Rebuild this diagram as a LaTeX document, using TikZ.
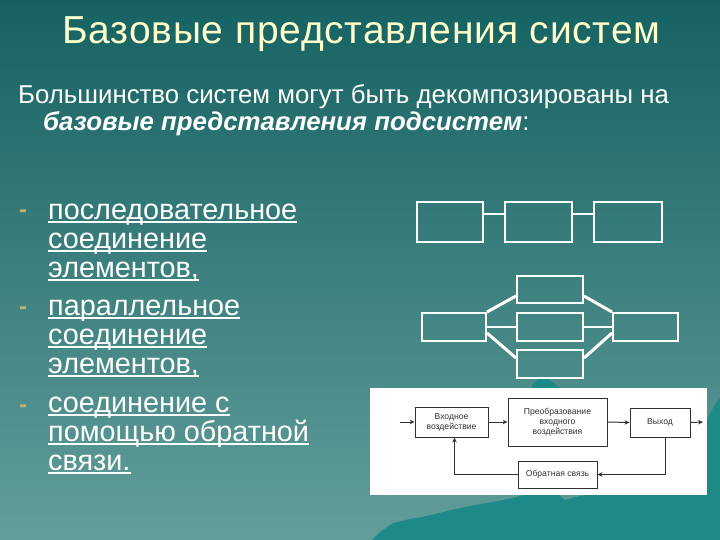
\documentclass[tikz,border=0pt]{standalone}
\usepackage{fontspec}
\setmainfont{Liberation Sans}
\usetikzlibrary{arrows.meta}
\definecolor{bgtop}{RGB}{22,98,98}
\definecolor{bgbot}{RGB}{98,158,155}
\definecolor{mount}{RGB}{30,138,136}
\definecolor{titlecol}{RGB}{255,255,204}
\definecolor{dashcol}{RGB}{190,180,110}
\definecolor{fbline}{RGB}{50,50,50}
\tikzset{
  titletext/.style={text=titlecol, font=\fontsize{39}{44}\selectfont\addfontfeature{LetterSpace=2}, inner sep=0pt},
  subtext/.style={text=white, font=\fontsize{25.8}{30}\selectfont, inner sep=0pt, anchor=base west},
  itemtext/.style={text=white, font=\fontsize{28.8}{32}\selectfont, inner sep=0pt, anchor=base west},
  dashmark/.style={text=dashcol, font=\fontsize{24}{28}\selectfont\bfseries, inner sep=0pt},
  uline/.style={draw=white, line width=1.4pt},
  sbox/.style={draw=white, line width=2pt, inner sep=0pt},
  slink/.style={draw=white, line width=2pt},
  plink/.style={draw=white, line width=3pt},
  fbbox/.style={draw=fbline, line width=0.9pt, fill=white, text=fbline, align=center,
    font=\fontsize{8.6}{10}\selectfont, inner sep=0pt},
  fbarrow/.style={draw=fbline, line width=1pt, -{Stealth[length=5pt,width=4.5pt]}},
}
\begin{document}
\begin{tikzpicture}[x=1pt,y=-1pt]
\useasboundingbox (0,0) rectangle (720,540);
\shade[top color=bgtop, bottom color=bgbot] (0,0) rectangle (720,540);
% mountain
\fill[mount] (372,540) -- (380,532) -- (393,523) -- (410,519) -- (427,516) -- (447,511)
  -- (470,506) -- (493,502) -- (517,497) -- (530,493) -- (532,385) -- (540,377) -- (550,380)
  -- (560,388) -- (560,496) -- (565,500) -- (575,497) -- (600,492) -- (700,492)
  -- (707,420) -- (712,410) -- (716,403) -- (720,398) -- (720,540) -- cycle;
% title
\node[titletext, anchor=base] (title) at (361.5,44) {Базовые представления систем};
% subtitle
\node[subtext] (sub1) at (18,104) {Большинство систем могут быть декомпозированы на};
\node[subtext] (sub2) at (43,131) {\bfseries\itshape базовые представления подсистем\normalfont:};
% bullets
\node[dashmark] (d1) at (23,214) {-};
\node[dashmark] (d2) at (23,311) {-};
\node[dashmark] (d3) at (23,409) {-};
\node[itemtext] (i1) at (48,219) {последовательное\ };
\node[itemtext] (i2) at (48,248) {соединение};
\node[itemtext] (i3) at (48,277) {элементов,};
\node[itemtext] (i4) at (48,315) {параллельное};
\node[itemtext] (i5) at (48,344) {соединение};
\node[itemtext] (i6) at (48,373) {элементов,};
\node[itemtext] (i7) at (48,412) {соединение с};
\node[itemtext] (i8) at (48,441) {помощью обратной};
\node[itemtext] (i9) at (48,470) {связи.};
\foreach \n in {i1,i2,i3,i4,i5,i6,i7,i8,i9}
  \draw[uline] ([yshift=-3pt]\n.base west) -- ([yshift=-3pt]\n.base east);
% series connection
\node[sbox, minimum width=66, minimum height=40] (s1) at (450,222) {};
\node[sbox, minimum width=67, minimum height=40] (s2) at (538.5,222) {};
\node[sbox, minimum width=68, minimum height=40] (s3) at (627.5,222) {};
\draw[slink] ([yshift=8pt]s1.east) -- ([yshift=8pt]s2.west);
\draw[slink] ([yshift=8pt]s2.east) -- ([yshift=8pt]s3.west);
% parallel connection
\node[sbox, minimum width=66, minimum height=27] (p1) at (550,289.5) {};
\node[sbox, minimum width=66, minimum height=28] (p2) at (550,327) {};
\node[sbox, minimum width=66, minimum height=28] (p3) at (550,364) {};
\node[sbox, minimum width=64, minimum height=28] (pl) at (454,327) {};
\node[sbox, minimum width=65, minimum height=28] (pr) at (645.5,327) {};
\draw[plink] (pl.north east) -- ([yshift=8pt]p1.south west);
\draw[slink] (pl.east) -- (p2.west);
\draw[plink] ([yshift=9pt]pl.south east) -- ([yshift=-9pt]p3.north west);
\draw[plink] ([yshift=8pt]p1.south east) -- (pr.north west);
\draw[slink] (p2.east) -- (pr.west);
\draw[plink] ([yshift=-9pt]p3.north east) -- ([yshift=9pt]pr.south west);
% feedback diagram
\fill[white] (370,388) rectangle (707,495);
\node[fbbox, minimum width=73, minimum height=30] (fin) at (451.5,422) {Входное\\воздействие};
\node[fbbox, minimum width=99, minimum height=48] (fconv) at (557.5,422) {Преобразование\\входного\\воздействия};
\node[fbbox, minimum width=60, minimum height=29] (fout) at (660,422.5) {Выход};
\node[fbbox, minimum width=79, minimum height=27] (ffb) at (557.5,474.5) {Обратная связь};
\coordinate (fsrc) at (400,422);
\coordinate (fdst) at (703,422);
\draw[fbarrow] (fsrc) -- (fin.west);
\draw[fbarrow] (fin.east) -- (fconv.west);
\draw[fbarrow] (fconv.east) -- (fout.west);
\draw[fbarrow] (fout.east) -- (fdst);
\draw[fbarrow] ([xshift=5pt]fout.south) |- (ffb.east);
\draw[fbarrow] (ffb.west) -| ([xshift=3pt]fin.south);
\end{tikzpicture}
\end{document}
